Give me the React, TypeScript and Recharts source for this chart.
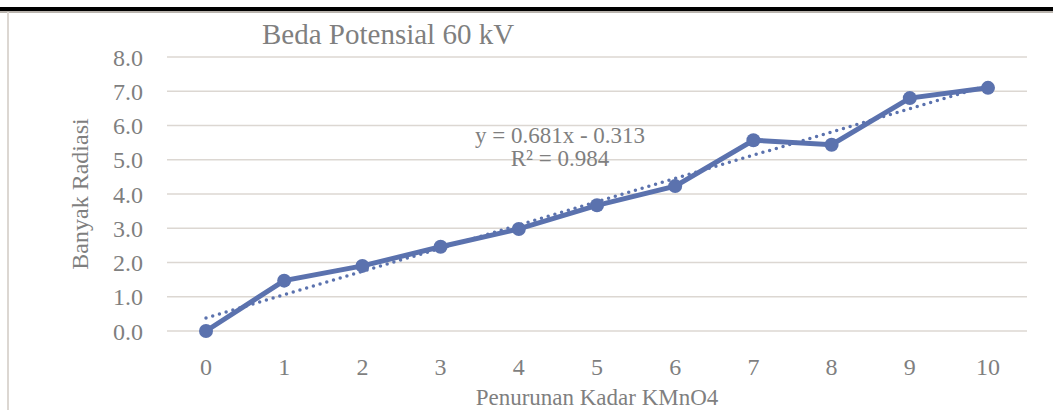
import { LineChart, Line, XAxis, YAxis, CartesianGrid } from 'recharts';

const categories = ['0', '1', '2', '3', '4', '5', '6', '7', '8', '9', '10'];
const radiasi = [0.0, 1.47, 1.9, 2.46, 2.98, 3.67, 4.23, 5.57, 5.44, 6.8, 7.1];
// dotted linear trendline, read at its two ends
const trend = [0.38, null, null, null, null, null, null, null, null, null, 7.17];
const yTicks = [0, 1, 2, 3, 4, 5, 6, 7, 8];

const data = categories.map((c, i) => ({ x: c, y: radiasi[i], trend: trend[i] }));

const FONT = '"Liberation Serif", "Times New Roman", serif';
const TEXT = '#7f7f7f';
const BLUE = '#5b72ae';
const GRID = '#dcd7d2';

export default function App() {
    return (
        <div style={{ position: 'absolute', left: 0, top: 0, width: 1053, height: 410, background: '#fff', fontFamily: FONT }}>
            <div style={{ position: 'absolute', left: 0, top: 7, width: 1053, height: 4, background: '#000' }} />
            <div style={{ position: 'absolute', left: 0, top: 11, width: 1053, height: 1.5, background: '#b9b4ae' }} />
            <div style={{ position: 'absolute', left: 7, top: 12, width: 1.5, height: 398, background: GRID }} />
            <LineChart width={1053} height={410} data={data} margin={{ top: 57, right: 26, bottom: 0, left: 0 }}>
                <CartesianGrid vertical={false} stroke={GRID} strokeWidth={1.5} />
                <XAxis
                    dataKey="x"
                    height={79}
                    padding={{ left: 39, right: 39 }}
                    axisLine={false}
                    tickLine={false}
                    tickSize={0}
                    tickMargin={27}
                    tick={{ fill: TEXT, fontSize: 24, fontFamily: FONT }}
                    label={{ value: 'Penurunan Kadar KMnO4', position: 'insideBottom', offset: 5, fill: TEXT, fontSize: 23, fontFamily: FONT }}
                />
                <YAxis
                    width={167}
                    domain={[0, 8]}
                    ticks={yTicks}
                    interval={0}
                    axisLine={false}
                    tickLine={false}
                    tickSize={0}
                    tickMargin={24}
                    tickFormatter={(v: number) => v.toFixed(1)}
                    tick={{ fill: TEXT, fontSize: 24, fontFamily: FONT }}
                    label={{ value: 'Banyak Radiasi', angle: -90, position: 'center', dx: -4, fill: TEXT, fontSize: 24, fontFamily: FONT }}
                />
                <Line
                    dataKey="y"
                    type="linear"
                    stroke={BLUE}
                    strokeWidth={5}
                    dot={{ r: 7, fill: BLUE, stroke: BLUE, strokeWidth: 0 }}
                    isAnimationActive={false}
                />
                <Line
                    dataKey="trend"
                    type="linear"
                    connectNulls
                    stroke={BLUE}
                    strokeWidth={3.5}
                    strokeDasharray="0 7"
                    strokeLinecap="round"
                    dot={false}
                    activeDot={false}
                    isAnimationActive={false}
                />
            </LineChart>
            <div style={{ position: 'absolute', left: 262, top: 18, fontSize: 29, color: TEXT, whiteSpace: 'nowrap' }}>
                Beda Potensial 60 kV
            </div>
            <div style={{ position: 'absolute', left: 440, top: 124, width: 240, textAlign: 'center', fontSize: 23, lineHeight: '23px', color: TEXT }}>
                <div>y = 0.681x - 0.313</div>
                <div>R² = 0.984</div>
            </div>
        </div>
    );
}
